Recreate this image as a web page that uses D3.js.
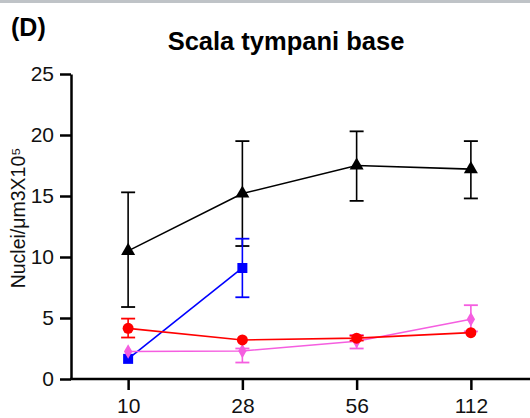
<!DOCTYPE html>
<html><head><meta charset="utf-8">
<script src="https://cdn.jsdelivr.net/npm/d3@7"></script>
<style>body{margin:0;background:#fff}svg{display:block}text{font-family:"Liberation Sans",Arial,sans-serif}</style>
</head><body><svg id="c" width="530" height="418"></svg>
<script>
const categories = ["10","28","56","112"];
const yTicks = [0,5,10,15,20,25];
const blackMean = [10.5, 15.2, 17.5, 17.2];
const blackLow  = [5.9, 10.9, 14.6, 14.8];
const blackHigh = [15.3, 19.5, 20.3, 19.5];
const blueMean = [1.65, 9.1];
const blueLow  = [1.65, 6.7];
const blueHigh = [1.65, 11.5];
const redMean = [4.15, 3.2, 3.35, 3.8];
const redLow  = [3.4, 3.2, 3.15, 3.8];
const redHigh = [4.95, 3.2, 3.55, 3.8];
const pinkMean = [2.25, 2.3, 3.1, 4.9];
const pinkLow  = [2.25, 1.35, 2.5, 3.9];
const pinkHigh = [2.25, 2.5, 3.6, 6.05];

const svg = d3.select("#c");
svg.append("rect").attr("x",0).attr("y",0).attr("width",530).attr("height",3).attr("fill","#bfc3c7");

const x = d3.scalePoint().domain(categories).range([71,528]).padding(0.5);
const y = d3.scaleLinear().domain([0,25]).range([379,74]);

svg.append("text").attr("x",11).attr("y",36).attr("font-size",25).attr("font-weight","bold").text("(D)");
svg.append("text").attr("x",286).attr("y",50).attr("text-anchor","middle").attr("font-size",25.5).attr("font-weight","bold").text("Scala tympani base");

const yAx = svg.append("g").attr("transform","translate(71,0)")
  .call(d3.axisLeft(y).tickValues(yTicks).tickSize(11).tickPadding(6).tickSizeOuter(0));
yAx.select(".domain").attr("stroke","#000").attr("stroke-width",2.5);
yAx.selectAll(".tick line").attr("stroke-width",2.5);
yAx.selectAll("text").attr("font-size",21).attr("fill","#111");

const xAx = svg.append("g").attr("transform","translate(0,379)")
  .call(d3.axisBottom(x).tickSize(11).tickPadding(8).tickSizeOuter(0));
xAx.select(".domain").attr("d","M70,0H530").attr("stroke","#000").attr("stroke-width",2.5);
xAx.selectAll(".tick line").attr("stroke-width",2.5);
xAx.selectAll("text").attr("font-size",21).attr("fill","#111");

svg.append("text").attr("transform","translate(25,218) rotate(-90)").attr("text-anchor","middle")
  .attr("font-size",19.5).attr("fill","#111").text("Nuclei/μm3X10⁵");

function series(mean, low, high, color, sym, size){
  const cats = categories.slice(0, mean.length);
  const g = svg.append("g");
  g.append("path").datum(mean).attr("fill","none").attr("stroke",color).attr("stroke-width",1.6)
    .attr("d", d3.line().x((d,i)=>x(cats[i])).y(d=>y(d)));
  cats.forEach((c,i)=>{
    if (high[i]-low[i] > 0.05) {
      const cx = x(c);
      g.append("line").attr("x1",cx).attr("x2",cx).attr("y1",y(low[i])).attr("y2",y(high[i])).attr("stroke",color).attr("stroke-width",1.6);
      [low[i],high[i]].forEach(v=>{
        if (Math.abs(v-mean[i])>0.05)
          g.append("line").attr("x1",cx-7).attr("x2",cx+7).attr("y1",y(v)).attr("y2",y(v)).attr("stroke",color).attr("stroke-width",1.8);
      });
    }
  });
  g.selectAll("path.m").data(mean).join("path").attr("class","m")
    .attr("transform",(d,i)=>`translate(${x(cats[i])},${y(d)})`)
    .attr("d", d3.symbol().type(sym).size(size)).attr("fill",color);
}
series(blackMean, blackLow, blackHigh, "#000", d3.symbolTriangle, 85);
series(blueMean, blueLow, blueHigh, "#0000ff", d3.symbolSquare, 100);
series(pinkMean, pinkLow, pinkHigh, "#f55ee0", d3.symbolDiamond, 60);
series(redMean, redLow, redHigh, "#ff0000", d3.symbolCircle, 95);
</script></body></html>
